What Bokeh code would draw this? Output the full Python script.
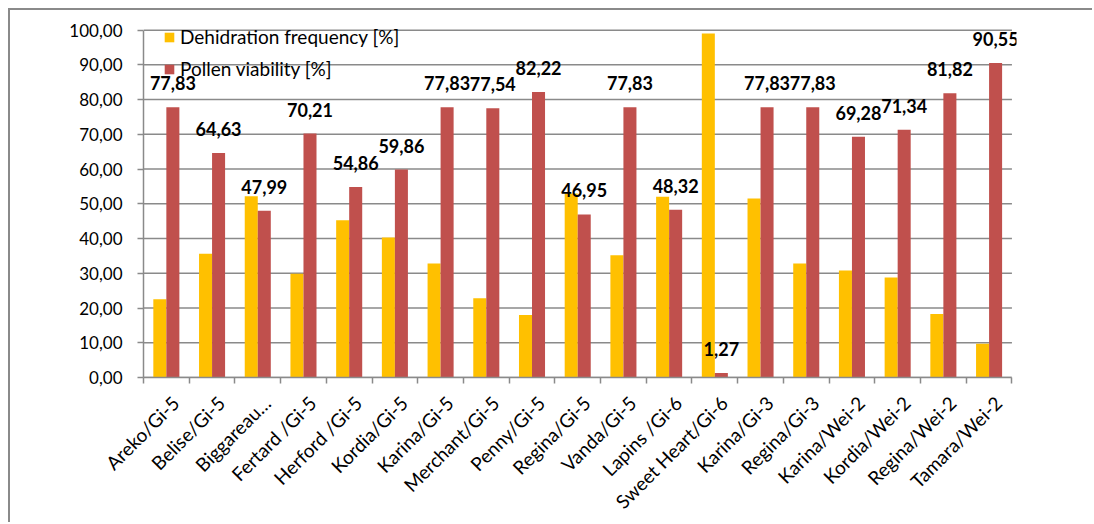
from bokeh.plotting import figure
from bokeh.models import ColumnDataSource, FixedTicker, Legend, LegendItem, Range1d
from bokeh.core.properties import value
from bokeh.embed import file_html
from bokeh.resources import INLINE

categories = ["Areko/Gi-5", "Belise/Gi-5", "Biggareau…", "Fertard /Gi-5", "Herford /Gi-5",
              "Kordia/Gi-5", "Karina/Gi-5", "Merchant/Gi-5", "Penny/Gi-5", "Regina/Gi-5",
              "Vanda/Gi-5", "Lapins /Gi-6", "Sweet Heart/Gi-6", "Karina/Gi-3", "Regina/Gi-3",
              "Karina/Wei-2", "Kordia/Wei-2", "Regina/Wei-2", "Tamara/Wei-2"]
dehydration = [22.5, 35.6, 52.2, 29.9, 45.3, 40.3, 32.8, 22.8, 18.0, 53.0,
               35.2, 52.0, 99.0, 51.5, 32.8, 30.8, 28.8, 18.3, 9.7]
viability = [77.83, 64.63, 47.99, 70.21, 54.86, 59.86, 77.83, 77.54, 82.22, 46.95,
             77.83, 48.32, 1.27, 77.83, 77.83, 69.28, 71.34, 81.82, 90.55]
viability_labels = ["77,83", "64,63", "47,99", "70,21", "54,86", "59,86", "77,83", "77,54",
                    "82,22", "46,95", "77,83", "48,32", "1,27", "77,83", "77,83", "69,28",
                    "71,34", "81,82", "90,55"]
y_ticks = [0, 10, 20, 30, 40, 50, 60, 70, 80, 90, 100]
y_tick_labels = ["0,00", "10,00", "20,00", "30,00", "40,00", "50,00", "60,00",
                 "70,00", "80,00", "90,00", "100,00"]
series_names = ["Dehidration frequency [%]", "Pollen viability [%]"]

YELLOW = "#FFC000"
RED = "#C0504D"
GRID = "#8a8a8a"
FONT = "Lato"

n = len(categories)
idx = list(range(n))
bw = 0.285
src = ColumnDataSource(dict(
    xy=[i - bw / 2 for i in idx],
    xr=[i + bw / 2 for i in idx],
    dy=dehydration,
    vr=viability,
    lab=viability_labels,
))

x_lo, x_hi = -0.5, n - 0.5
p = figure(width=1084, height=514, output_backend="svg", toolbar_location=None,
           x_range=Range1d(x_lo, x_hi + 0.1), y_range=Range1d(0, 104.5),
           min_border_left=133, min_border_right=78, min_border_top=4, min_border_bottom=147)
p.margin = (8, 0, 0, 8)
p.styles = {"border-left": "2px solid #8a8a8a", "border-top": "2px solid #8a8a8a"}
p.outline_line_color = None
p.background_fill_color = "white"
p.border_fill_color = "white"

# horizontal gridlines spanning the category axis
p.segment(x0=[x_lo] * len(y_ticks), y0=y_ticks, x1=[x_hi] * len(y_ticks), y1=y_ticks,
          line_color=GRID, line_width=1.5)

r1 = p.vbar(x="xy", top="dy", width=bw, bottom=0, source=src, fill_color=YELLOW, line_color=None)
r2 = p.vbar(x="xr", top="vr", width=bw, bottom=0, source=src, fill_color=RED, line_color=None)

p.text(x="xr", y="vr", text="lab", source=src, y_offset=-24,
       text_align="center", text_baseline="middle",
       text_font=value(FONT), text_font_style="bold", text_font_size="18px", text_color="black")

# y axis
p.yaxis.ticker = FixedTicker(ticks=y_ticks)
p.yaxis.bounds = (0, 100)
p.yaxis.major_label_overrides = {t: l for t, l in zip(y_ticks, y_tick_labels)}
p.yaxis.axis_line_color = GRID
p.yaxis.axis_line_width = 1.5
p.yaxis.major_tick_line_color = GRID
p.yaxis.major_tick_line_width = 1.5
p.yaxis.major_tick_out = 6
p.yaxis.major_tick_in = 0
p.yaxis.minor_tick_line_color = None
p.yaxis.major_label_standoff = 15
p.yaxis.major_label_text_font = FONT
p.yaxis.major_label_text_font_size = "17px"
p.yaxis.major_label_text_color = "black"

# x axis: labels anchored slightly right of each category centre, ticks at boundaries
label_pos = [i + 0.2 for i in idx]
p.xaxis.ticker = FixedTicker(ticks=label_pos, minor_ticks=[i - 0.5 for i in range(n + 1)])
p.xaxis.bounds = (x_lo, x_hi)
p.xaxis.major_label_overrides = {t: c for t, c in zip(label_pos, categories)}
p.xaxis.major_label_orientation = 0.785398
p.xaxis.axis_line_color = GRID
p.xaxis.axis_line_width = 1.5
p.xaxis.major_tick_line_color = None
p.xaxis.major_tick_out = 0
p.xaxis.minor_tick_line_color = GRID
p.xaxis.minor_tick_line_width = 1.5
p.xaxis.minor_tick_out = 6
p.xaxis.minor_tick_in = 0
p.xaxis.major_label_standoff = 16
p.xaxis.major_label_text_font = FONT
p.xaxis.major_label_text_font_size = "19px"
p.xaxis.major_label_text_color = "black"

p.xgrid.visible = False
p.ygrid.visible = False

legend = Legend(items=[LegendItem(label=series_names[0], renderers=[r1]),
                       LegendItem(label=series_names[1], renderers=[r2])],
                location=(20, 297), orientation="vertical",
                glyph_width=12, glyph_height=12, label_standoff=5,
                label_height=20, spacing=9, padding=0, margin=0,
                background_fill_alpha=0, border_line_color=None,
                label_text_font=FONT, label_text_font_size="19px", label_text_color="black")
p.add_layout(legend)

open("out.html", "w").write(file_html(p, INLINE))
